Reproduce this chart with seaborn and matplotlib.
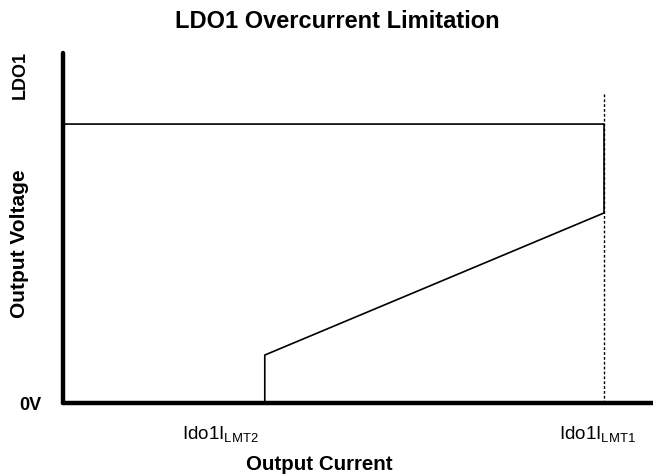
import numpy as np
import pandas as pd
import matplotlib.pyplot as plt
import seaborn as sns

# Foldback curve points (x = output current, y = output voltage), arbitrary units
current = [0, 91.7, 91.7, 34.2, 34.2]
voltage = [79.7, 79.7, 54.3, 13.7, 0]

# Current limit marker
limit_current = 91.7
limit_top = 88.6

# Tick label positions and texts
tick_pos = [26.6, 90.6]
tick_labels = [r'Ido1I$_{\mathrm{LMT2}}$', r'Ido1I$_{\mathrm{LMT1}}$']

sns.set_theme(style='white')
plt.rcParams['font.family'] = ['Liberation Sans', 'DejaVu Sans']
plt.rcParams['mathtext.fontset'] = 'custom'
plt.rcParams['mathtext.rm'] = 'Liberation Sans'
plt.rcParams['text.color'] = 'black'

fig = plt.figure(figsize=(6.53, 4.76), dpi=100)
ax = fig.add_axes([63 / 653, 73 / 476, 590 / 653, 350 / 476])

df = pd.DataFrame({'current': current, 'voltage': voltage})
sns.lineplot(data=df, x='current', y='voltage', sort=False, estimator=None,
             color='black', linewidth=1.2, ax=ax)
ax.plot([limit_current, limit_current], [0, limit_top], color='black',
        linewidth=1.0, linestyle=(0, (2, 1.5)))

ax.set_xlim(0, 100)
ax.set_ylim(0, 100)
ax.set_xticks([])
ax.set_yticks([])
ax.set_xlabel('')
ax.set_ylabel('')

for side in ['top', 'right']:
    ax.spines[side].set_visible(False)
for side in ['left', 'bottom']:
    ax.spines[side].set_linewidth(3.2)
    ax.spines[side].set_color('black')
    ax.spines[side].set_capstyle('round')

for p, lab in zip(tick_pos, tick_labels):
    ax.text(p, -9, lab, ha='center', va='center', fontsize=13.5, color='black')

fig.text(337 / 653, 1 - 22 / 476, 'LDO1 Overcurrent Limitation', ha='center',
         va='center', fontsize=17, fontweight='bold', color='black')
fig.text(319 / 653, 1 - 465 / 476, 'Output Current', ha='center',
         va='center', fontsize=14.8, fontweight='bold', color='black')
fig.text(20 / 653, 1 - 244 / 476, 'Output Voltage', ha='center',
         va='center', rotation=90, fontsize=15, fontweight='bold', color='black')
fig.text(20 / 653, 1 - 75 / 476, 'LDO1', ha='center',
         va='center', rotation=90, fontsize=13, fontweight='bold', color='black')
fig.text(30 / 653, 1 - 406 / 476, '0V', ha='center',
         va='center', fontsize=13, fontweight='bold', color='black')

fig.savefig('out.png', dpi=100, facecolor='white')
